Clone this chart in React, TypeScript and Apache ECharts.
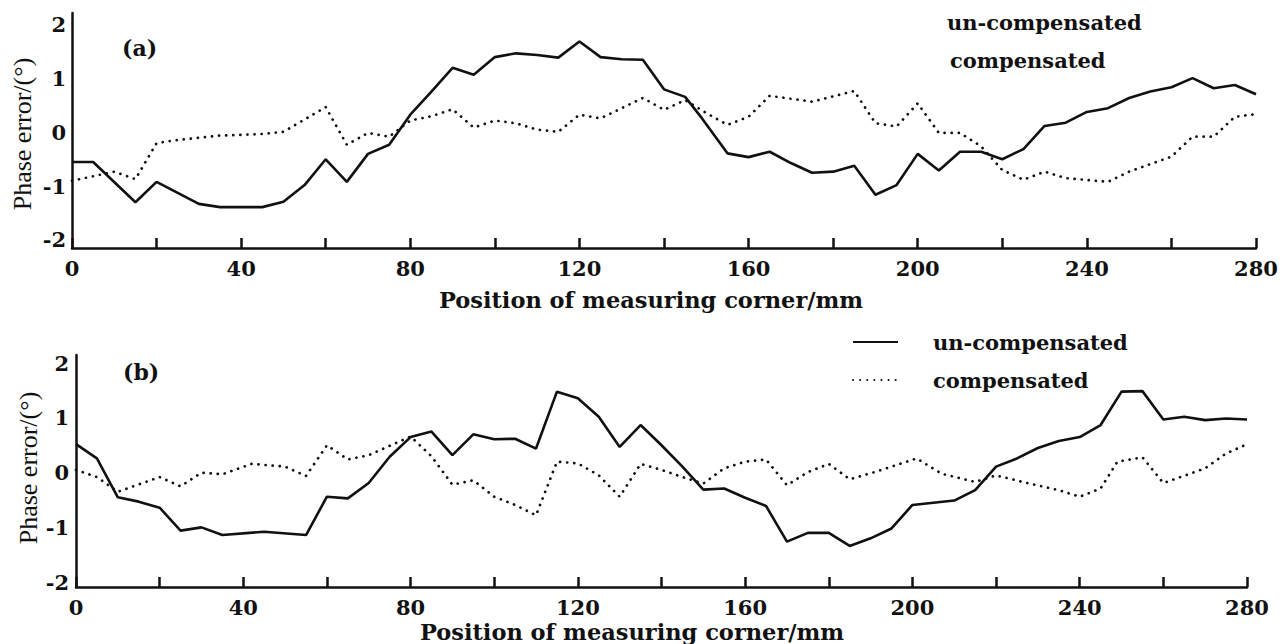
import React, { useEffect, useRef } from "react";
import * as echarts from "echarts";

// ---- data (a) ----
const aUncompX = [0,5,15,20,30,35,45,50,55,60,65,70,75,80,85,90,95,100,105,110,115,120,125,130,135,140,145,149,155,160,165,170,175,180,185,190,195,200,205,210,215,220,225,230,235,240,245,250,255,260,265,270,275,280];
const aUncompY = [-0.55,-0.55,-1.3,-0.92,-1.33,-1.39,-1.39,-1.29,-0.98,-0.5,-0.92,-0.4,-0.23,0.33,0.76,1.2,1.07,1.4,1.47,1.44,1.39,1.69,1.4,1.36,1.35,0.8,0.66,0.26,-0.39,-0.46,-0.36,-0.57,-0.75,-0.73,-0.62,-1.16,-0.98,-0.4,-0.71,-0.36,-0.36,-0.5,-0.31,0.12,0.18,0.38,0.45,0.64,0.76,0.84,1.01,0.82,0.88,0.71];
const aCompX = [0,10,15,20,25,35,45,50,60,65,70,75,80,85,90,95,100,105,110,115,120,125,130,135,140,145,150,155,160,165,175,185,190,195,200,205,210,215,220,225,230,235,245,250,260,265,270,275,280];
const aCompY = [-0.9,-0.73,-0.87,-0.2,-0.14,-0.06,-0.03,0.01,0.47,-0.23,-0.01,-0.08,0.22,0.3,0.43,0.09,0.22,0.17,0.05,0.01,0.33,0.26,0.45,0.64,0.42,0.6,0.36,0.14,0.29,0.68,0.57,0.77,0.17,0.11,0.54,-0.01,-0.01,-0.26,-0.7,-0.88,-0.73,-0.85,-0.92,-0.73,-0.45,-0.08,-0.08,0.29,0.34];

// ---- data (b) ----
const bUncompX = [0,5,10,15,20,25,30,35,45,55,60,65,70,75,80,85,90,95,100,105,110,115,120,125,130,135,140,145,150,155,160,165,170,175,180,185,190,195,200,210,215,220,225,230,235,240,245,250,255,260,265,270,275,280];
const bUncompY = [0.52,0.26,-0.45,-0.53,-0.64,-1.06,-1.0,-1.14,-1.08,-1.14,-0.44,-0.47,-0.19,0.29,0.65,0.75,0.32,0.7,0.61,0.62,0.44,1.48,1.36,1.02,0.47,0.87,0.5,0.11,-0.31,-0.29,-0.46,-0.61,-1.26,-1.1,-1.1,-1.34,-1.2,-1.02,-0.59,-0.51,-0.32,0.11,0.26,0.45,0.58,0.65,0.87,1.48,1.49,0.97,1.02,0.96,0.99,0.97];
const bCompX = [0,5,10,20,25,30,35,42,50,55,60,65,70,80,85,90,95,100,105,110,115,120,125,130,135,140,145,150,155,160,165,170,175,180,185,191,201,207,215,220,228,235,240,245,249,255,260,266,270,275,280];
const bCompY = [0.05,-0.08,-0.35,-0.08,-0.25,0.0,-0.03,0.16,0.11,-0.06,0.5,0.24,0.32,0.66,0.3,-0.22,-0.14,-0.44,-0.59,-0.78,0.2,0.17,-0.05,-0.44,0.16,0.05,-0.08,-0.2,0.08,0.2,0.24,-0.23,0.01,0.16,-0.12,0.01,0.26,-0.02,-0.17,-0.05,-0.2,-0.32,-0.44,-0.29,0.2,0.28,-0.19,-0.03,0.08,0.35,0.52];

const xTickLabels = [0, 40, 80, 120, 160, 200, 240, 280];
const yTickLabels = [-2, -1, 0, 1, 2];
const seriesNames = ["un-compensated", "compensated"];
const xTitle = "Position of measuring corner/mm";
const yTitle = "Phase error/(°)";

const zip = (xs: number[], ys: number[]) => xs.map((x, i) => [x, ys[i]]);

const INK = "#111";
const SERIF = "'DejaVu Serif', serif";

export default function App() {
  const ref = useRef<HTMLDivElement>(null);
  useEffect(() => {
    if (!ref.current) return;
    const chart = echarts.init(ref.current, null, { renderer: "svg" });
    const xAxisBase = (gridIndex: number) => ({
      type: "value",
      gridIndex,
      min: 0,
      max: 280,
      interval: 20,
      axisLine: { onZero: false, lineStyle: { color: INK, width: 2.5 } },
      axisTick: { inside: true, length: 10, lineStyle: { color: INK, width: 2.5 } },
      axisLabel: {
        color: INK,
        fontFamily: SERIF,
        fontSize: 21,
        fontWeight: "bold",
        margin: 10,
        formatter: (v: number) => (xTickLabels.includes(v) ? String(v) : ""),
      },
      splitLine: { show: false },
    });
    const yAxisBase = (gridIndex: number, min: number, max: number, margin: number) => ({
      type: "value",
      gridIndex,
      min,
      max,
      axisLine: { show: true, onZero: false, lineStyle: { color: INK, width: 2.5 } },
      axisTick: { show: false },
      axisLabel: {
        color: INK,
        fontFamily: SERIF,
        fontSize: 21,
        fontWeight: "bold",
        margin,
        customValues: yTickLabels,
      },
      splitLine: { show: false },
    });
    const solid = { color: INK, width: 2.6, type: "solid" };
    const dotted = { color: INK, width: 2.7, type: [0.1, 7], cap: "round" };
    const mkSeries = (name: string, idx: number, data: number[][], ls: any) => ({
      name,
      type: "line",
      xAxisIndex: idx,
      yAxisIndex: idx,
      data,
      showSymbol: false,
      symbol: "none",
      lineStyle: ls,
      itemStyle: { color: INK },
      z: name === seriesNames[0] ? 3 : 2,
    });
    const text = (t: string, x: number, y: number, opts: any = {}) => ({
      type: "text",
      x,
      y,
      rotation: opts.rotation || 0,
      style: {
        text: t,
        fill: INK,
        font: opts.font || `bold 21px ${SERIF}`,
        textAlign: opts.align || "left",
        textVerticalAlign: "middle",
      },
    });
    chart.setOption({
      animation: false,
      backgroundColor: "#fff",
      grid: [
        { left: 72, right: 31, top: 13, height: 235 },
        { left: 76, right: 40, top: 355, height: 232 },
      ],
      xAxis: [xAxisBase(0), xAxisBase(1)],
      yAxis: [yAxisBase(0, -2.15, 2.22, 6), yAxisBase(1, -2.09, 2.15, 7)],
      legend: {
        orient: "vertical",
        left: 847,
        top: 325,
        itemWidth: 45,
        itemHeight: 10,
        itemGap: 14,
        data: seriesNames,
        selectedMode: false,
        itemStyle: { color: "transparent", borderColor: "transparent", borderWidth: 0, opacity: 0 },
        textStyle: {
          color: INK,
          fontFamily: SERIF,
          fontSize: 21,
          fontWeight: "bold",
          lineHeight: 24,
          padding: [0, 0, 0, 30],
        },
      },
      series: [
        mkSeries(seriesNames[0], 0, zip(aUncompX, aUncompY), solid),
        mkSeries(seriesNames[1], 0, zip(aCompX, aCompY), dotted),
        mkSeries(seriesNames[0], 1, zip(bUncompX, bUncompY), solid),
        mkSeries(seriesNames[1], 1, zip(bCompX, bCompY), dotted),
      ],
      graphic: [
        text("(a)", 122, 48, { font: `bold 22px ${SERIF}` }),
        text("(b)", 123, 372, { font: `bold 22px ${SERIF}` }),
        text(seriesNames[0], 947, 22),
        text(seriesNames[1], 950, 60),
        text(xTitle, 651, 300, { align: "center", font: `bold 22.5px ${SERIF}` }),
        text(xTitle, 632, 632, { align: "center", font: `bold 22.5px ${SERIF}` }),
        text(yTitle, 22, 134, { align: "center", rotation: Math.PI / 2, font: `26px 'Liberation Serif', serif` }),
        text(yTitle, 28, 468, { align: "center", rotation: Math.PI / 2, font: `26px 'Liberation Serif', serif` }),
      ],
    });
    return () => chart.dispose();
  }, []);
  return <div ref={ref} style={{ position: "fixed", left: 0, top: 0, width: 1287, height: 644 }} />;
}
